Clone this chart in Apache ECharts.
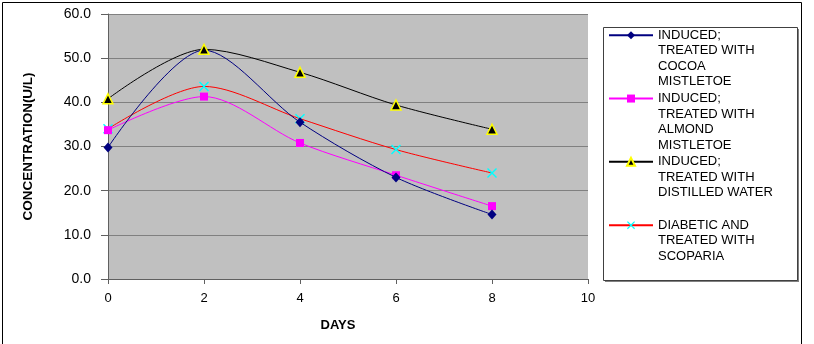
<!DOCTYPE html>
<html>
<head>
<meta charset="utf-8">
<script src="https://cdn.jsdelivr.net/npm/echarts@6/dist/echarts.min.js"></script>
<style>
  html, body { margin: 0; padding: 0; background: #fff; }
  #chart { width: 814px; height: 344px; }
</style>
</head>
<body>
<div id="chart"></div>
<script>
// days on the x axis
var days = [0, 2, 4, 6, 8]
// concentration (U/L)
var cocoa = [29.8, 51.8, 35.5, 23.0, 14.6]
var almond = [33.7, 41.3, 30.8, 23.5, 16.5]
var water = [40.8, 52.0, 46.8, 39.4, 33.9]
var scoparia = [34.0, 43.6, 36.3, 29.3, 24.0]

var names = [
  'INDUCED; TREATED WITH COCOA MISTLETOE',
  'INDUCED; TREATED WITH ALMOND MISTLETOE',
  'INDUCED; TREATED WITH DISTILLED WATER',
  'DIABETIC AND TREATED WITH SCOPARIA'
]
// three empty lines first so the icon sits beside the first text line
var legendText = [
  '\n\n\nINDUCED;\nTREATED WITH\nCOCOA\nMISTLETOE',
  '\n\n\nINDUCED;\nTREATED WITH\nALMOND\nMISTLETOE',
  '\n\n\nINDUCED;\nTREATED WITH\nDISTILLED WATER\n ',
  '\n\n\nDIABETIC AND\nTREATED WITH\nSCOPARIA\n '
]

function pairs(ys) {
  return days.map(function (d, i) { return [d, ys[i]] })
}

var crossPath = 'path://M0,1L1,0L5,4L9,0L10,1L6,5L10,9L9,10L5,6L1,10L0,9L4,5Z'
var lineH = 15.5

var myChart = echarts.init(document.getElementById('chart'))
myChart.setOption({
  animation: false,
  backgroundColor: '#fff',
  textStyle: { fontFamily: 'Liberation Sans, Arial, sans-serif', color: '#000' },
  grid: { left: 108, top: 14, right: 226, bottom: 65, show: true, backgroundColor: '#c0c0c0', borderWidth: 0 },
  graphic: [
    { type: 'rect', shape: { x: 2.5, y: 2.5, width: 799, height: 360 }, style: { fill: null, stroke: '#000', lineWidth: 1 }, silent: true },
    { type: 'rect', shape: { x: 605, y: 29, width: 194, height: 253 }, style: { fill: '#808080' }, silent: true, z: -1 },
    { type: 'rect', shape: { x: 603.5, y: 27.5, width: 194, height: 253 }, style: { fill: '#fff', stroke: '#404040', lineWidth: 1 }, silent: true, z: -1 }
  ],
  legend: {
    orient: 'vertical',
    left: 608,
    top: -19,
    padding: 0,
    itemWidth: 44,
    itemHeight: 10,
    itemGap: 63.3 - 7 * lineH,
    selectedMode: false,
    data: names,
    formatter: function (name) {
      return legendText[names.indexOf(name)]
    },
    textStyle: {
      fontSize: 13,
      lineHeight: lineH,
      color: '#000'
    }
  },
  xAxis: {
    type: 'value',
    min: 0,
    max: 10,
    interval: 2,
    name: 'DAYS',
    nameLocation: 'middle',
    nameGap: 40,
    nameTextStyle: { fontWeight: 'bold', fontSize: 13, padding: [0, 20, 0, 0] },
    axisLine: { lineStyle: { color: '#606060' } },
    axisTick: { length: 5, lineStyle: { color: '#606060' } },
    axisLabel: { fontSize: 13, margin: 13, color: '#000' },
    splitLine: { show: false }
  },
  yAxis: {
    type: 'value',
    min: 0,
    max: 60,
    interval: 10,
    name: 'CONCENTRATION(U/L)',
    nameLocation: 'middle',
    nameGap: 73,
    nameTextStyle: { fontWeight: 'bold', fontSize: 13.5 },
    axisLine: { show: true, lineStyle: { color: '#606060' } },
    axisTick: { show: true, length: 7, lineStyle: { color: '#606060' } },
    axisLabel: {
      fontSize: 14,
      margin: 17,
      color: '#000',
      formatter: function (v) { return v.toFixed(1) }
    },
    splitLine: { lineStyle: { color: '#808080', width: 1 } }
  },
  series: [
    {
      name: names[0],
      type: 'line',
      smooth: 0.3,
      data: pairs(cocoa),
      symbol: 'diamond',
      symbolSize: [9, 10],
      lineStyle: { color: '#000080', width: 1 },
      itemStyle: { color: '#000080' },
      z: 4
    },
    {
      name: names[1],
      type: 'line',
      smooth: 0.3,
      data: pairs(almond),
      symbol: 'rect',
      symbolSize: 8,
      lineStyle: { color: '#ff00ff', width: 1 },
      itemStyle: { color: '#ff00ff' },
      z: 3
    },
    {
      name: names[2],
      type: 'line',
      smooth: 0.3,
      data: pairs(water),
      symbol: 'triangle',
      symbolSize: 10,
      lineStyle: { color: '#000000', width: 1 },
      itemStyle: { color: '#000000', borderColor: '#ffff00', borderWidth: 1.5 },
      z: 5
    },
    {
      name: names[3],
      type: 'line',
      smooth: 0.3,
      data: pairs(scoparia),
      symbol: crossPath,
      symbolSize: 10,
      lineStyle: { color: '#ff0000', width: 1 },
      itemStyle: { color: '#00ffff' },
      z: 2
    }
  ]
})
</script>
</body>
</html>
